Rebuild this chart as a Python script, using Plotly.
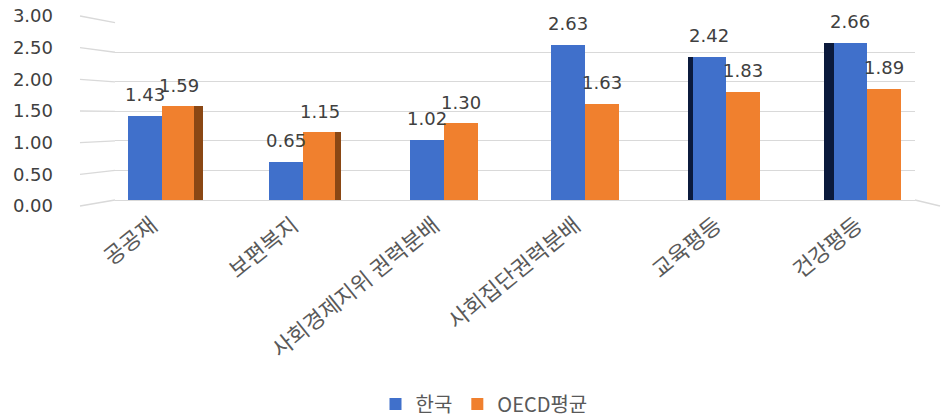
import plotly.graph_objects as go

# ---- data -------------------------------------------------------------
categories = ["공공재", "보편복지", "사회경제지위 권력분배", "사회집단권력분배", "교육평등", "건강평등"]
korea = [1.43, 0.65, 1.02, 2.63, 2.42, 2.66]
oecd = [1.59, 1.15, 1.30, 1.63, 1.83, 1.89]
series_names = ["한국", "OECD평균"]
y_ticks = [0.0, 0.5, 1.0, 1.5, 2.0, 2.5, 3.0]

# ---- styling / layout constants ---------------------------------------
W, H = 942, 419
ML, MR, MT, MB = 115, 27, 16, 213          # plot frame (label axis spans full frame)
plot_w = W - ML - MR
plot_h = H - MT - MB
Y_MAX = 3.0
# value axis sits a little inside the label axis (perspective floor/back wall)
d0 = 6 / plot_h
d1 = 1 - 6.7 / plot_h

BLUE = "#4070CB"
ORANGE = "#F0802E"
BROWN = "#8A4714"
NAVY = "#0B1A3C"
GRID = "#D9D9D9"
TXT = "#595959"
NUM = "#404040"

BW = 0.24  # bar width in category units

fig = go.Figure()

# main bars
fig.add_trace(go.Bar(x=list(range(len(categories))), y=korea, name=series_names[0],
                     marker=dict(color=BLUE, line=dict(width=0)),
                     offset=-BW, width=BW, yaxis="y"))
fig.add_trace(go.Bar(x=list(range(len(categories))), y=oecd, name=series_names[1],
                     marker=dict(color=ORANGE, line=dict(width=0)),
                     offset=0, width=BW, yaxis="y"))

# shaded side faces giving the bars a bit of depth
orange_side_w = [0.062, 0.042, 0, 0, 0, 0]
blue_side_w = [0, 0, 0, 0, 0.036, 0.07]
fig.add_trace(go.Bar(x=list(range(len(categories))),
                     y=[v if w else None for v, w in zip(oecd, orange_side_w)],
                     width=orange_side_w, offset=[BW - 0.012] * len(categories),
                     marker=dict(color=BROWN, line=dict(width=0)),
                     showlegend=False, hoverinfo="skip", yaxis="y"))
fig.add_trace(go.Bar(x=list(range(len(categories))),
                     y=[v if w else None for v, w in zip(korea, blue_side_w)],
                     width=blue_side_w, offset=[-BW - w + 0.004 for w in blue_side_w],
                     marker=dict(color=NAVY, line=dict(width=0)),
                     showlegend=False, hoverinfo="skip", yaxis="y"))

# invisible carrier for the tick-label axis
fig.add_trace(go.Scatter(x=[0, 0], y=[y_ticks[0], y_ticks[-1]], mode="markers",
                         marker=dict(opacity=0), showlegend=False,
                         hoverinfo="skip", yaxis="y2"))

# value labels above each bar
annotations = []
for i, (k, o) in enumerate(zip(korea, oecd)):
    for val, xc in ((k, i - BW / 2), (o, i + BW / 2)):
        annotations.append(dict(x=xc, y=val, xref="x", yref="y", text=f"{val:.2f}",
                                showarrow=False, yshift=21,
                                font=dict(family="DejaVu Sans", size=18, color=NUM)))

# slanted grid connectors between the tick labels and the back wall
shapes = []
x_left = (80 - ML) / plot_w
for v in y_ticks:
    shapes.append(dict(type="line", xref="paper", yref="paper",
                       x0=x_left, y0=v / Y_MAX, x1=0, y1=d0 + v / Y_MAX * (d1 - d0),
                       line=dict(color=GRID, width=1.3), layer="below"))
# right edge of the floor
shapes.append(dict(type="line", xref="paper", yref="paper",
                   x0=1, y0=d0, x1=(940 - ML) / plot_w, y1=0,
                   line=dict(color=GRID, width=1.3), layer="below"))

fig.update_layout(
    width=W, height=H,
    margin=dict(l=ML, r=MR, t=MT, b=MB, pad=0, autoexpand=False),
    paper_bgcolor="white", plot_bgcolor="rgba(0,0,0,0)",
    barmode="overlay",
    showlegend=True,
    legend=dict(orientation="h", x=(484 - ML) / plot_w, xanchor="center",
                y=(MT + plot_h - 404) / plot_h, yanchor="middle",
                font=dict(family="Noto Sans CJK KR", size=20, color=TXT),
                itemwidth=30, traceorder="normal", tracegroupgap=0),
    xaxis=dict(range=[-0.5 + (ML - 91.5) / 141, 5.34], tickmode="array",
               tickvals=list(range(len(categories))), ticktext=categories,
               tickangle=-39, showgrid=False, zeroline=False,
               showline=True, linecolor=GRID, linewidth=1.3, ticks="",
               tickfont=dict(family="Noto Sans CJK KR", size=22, color=TXT),
               ticklabelstandoff=3, ticklabelshift=-10, anchor="y"),
    yaxis=dict(domain=[d0, d1], range=[0, Y_MAX], tickvals=y_ticks,
               showticklabels=False, showgrid=True, gridcolor=GRID, gridwidth=1.3,
               zeroline=False, anchor="x"),
    yaxis2=dict(domain=[0, 1], range=[0, Y_MAX], tickvals=y_ticks, tickformat=".2f",
                showgrid=False, zeroline=False, anchor="x", side="left",
                tickfont=dict(family="DejaVu Sans", size=18, color=NUM),
                ticklabelstandoff=ML - 54),
    annotations=annotations,
    shapes=shapes,
    bargap=0,
)

fig.write_html("out.html")
